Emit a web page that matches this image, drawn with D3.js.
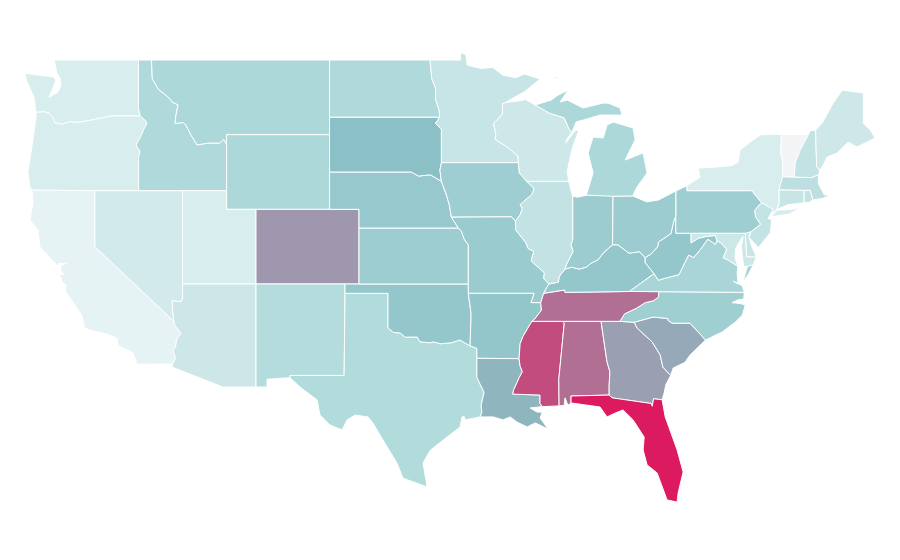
<!DOCTYPE html>
<html>
<head>
<meta charset="utf-8">
<title>States</title>
<script src="https://cdn.jsdelivr.net/npm/d3@7"></script>
<style>
  html, body { margin: 0; background: #fff; }
  .state { stroke: #fff; stroke-width: 1; stroke-linejoin: round; }
</style>
</head>
<body>
<svg id="map" width="900" height="560"></svg>
<script>
(function () {
  'use strict';

  var stateNames = ['WA','OR','CA','NV','ID','MT','WY','UT','CO','AZ','NM','TX','OK','KS','NE','SD','ND','MN','IA','MO','AR','LA','MS','AL','GA','FL','SC','NC','TN','KY','VA','WV','MD','DE','PA','OH','IN','IL','WI','MI','NY','NJ','CT','RI','MA','VT','NH','ME'];
  var stateValues = [13,13,6.7,15.7,32,33,33,13,62.3,18,29.5,30.5,45,40.5,44,50,32,21,40,42,46,53.3,85,74.4,59.6,100,57,39.5,74.4,45,35,45,18.6,20.5,40,41.4,41.4,23,17.6,33,13,22,20.5,22,25.7,0,23,17.6];

  var colorStops = [0, 6.7, 33, 50, 100];
  var colorRange = ['#f3f4f6', '#e5f3f4', '#add8da', '#8ac0c6', '#dc1a60'];

  // borders, lon/lat
  var waCoast = [[-122.76,49],[-122.58,48.3],[-122.37,48.03],[-122.3,47.66],[-122.5,47.28],[-123.12,47],[-122.9,47.4],[-122.65,47.93],[-122.85,48.09],[-123.7,48.17],[-124.75,48.3],[-124.65,47.9],[-124.3,47.3],[-124.1,46.9],[-124.05,46.4],[-124,46.2]];
  var waOr = [[-124,46.2],[-123.4,46.22],[-123.1,46.15],[-122.85,45.95],[-122.75,45.65],[-122.25,45.55],[-121.7,45.7],[-121.2,45.65],[-120.6,45.73],[-119.95,45.83],[-119.3,45.93],[-118.98,46],[-116.92,46]];
  var waId = [[-117.04,49],[-117.04,46.42],[-116.92,46]];
  var orCoast = [[-124,46.2],[-124,45.95],[-124.21,44.7],[-124.55,43],[-124.41,42.2],[-124.27,42.03]];
  var caOr = [[-124.27,42.03],[-120,42]];
  var orNv = [[-120,42],[-117.03,42]];
  var orId = [[-116.92,46],[-116.55,45.75],[-116.46,45.6],[-116.7,45.25],[-116.85,44.95],[-117.2,44.45],[-117.05,44.25],[-116.93,44.1],[-117.03,43.8],[-117.03,42]];
  var caCoast = [[-124.27,42.03],[-124.2,41.35],[-124.41,40.43],[-123.87,39.9],[-123.73,38.98],[-122.7,38.12],[-122.5,37.95],[-122.45,38.1],[-122.2,38.1],[-121.9,38.12],[-122.25,38],[-122.35,37.75],[-122.1,37.5],[-122.4,37.55],[-122.2,37.1],[-121.95,36.95],[-122,36.7],[-121.95,36.55],[-120.9,35.35],[-120.68,34.64],[-120.2,34.5],[-119.45,34.38],[-118.5,34.1],[-118.43,33.73],[-117.4,33.3],[-117.14,32.7],[-114.72,32.72]];
  var caNv = [[-120,42],[-120,39],[-114.63,35]];
  var caAz = [[-114.63,35],[-114.57,34.8],[-114.15,34.35],[-114.43,34.05],[-114.53,33.6],[-114.69,33.46],[-114.52,33.03],[-114.72,32.72]];
  var idNv = [[-117.03,42],[-114.04,42]];
  var nvUt = [[-114.04,42],[-114.04,37]];
  var nvAz = [[-114.04,37],[-114.04,36.2],[-114.15,36.05],[-114.75,36.1],[-114.72,35.6],[-114.63,35]];
  var idMt = [[-116.15,49],[-116.1,48],[-115.7,47.45],[-115,47],[-114.75,46.75],[-114.35,46.6],[-114.5,46],[-114.55,45.6],[-114,45.65],[-113.8,45.5],[-113.45,44.95],[-113.05,44.45],[-112.3,44.55],[-111.5,44.55],[-111.25,44.75],[-111.05,44.48]];
  var idUt = [[-114.04,42],[-111.05,42]];
  var idWy = [[-111.05,44.48],[-111.05,42]];
  var mtWy = [[-111.05,44.48],[-111.05,45],[-104.05,45]];
  var mtSd = [[-104.05,45],[-104.05,45.94]];
  var mtNd = [[-104.05,45.94],[-104.05,49]];
  var wyUt = [[-111.05,42],[-111.05,41],[-109.05,41]];
  var wyCo = [[-109.05,41],[-104.05,41]];
  var neWy = [[-104.05,43],[-104.05,41]];
  var sdWy = [[-104.05,45],[-104.05,43]];
  var utCo = [[-109.05,41],[-109.05,37]];
  var utAz = [[-114.04,37],[-109.05,37]];
  var coNe = [[-104.05,41],[-102.05,41],[-102.05,40]];
  var coKs = [[-102.05,40],[-102.05,37]];
  var okCo = [[-102.05,37],[-103,37]];
  var coNm = [[-103,37],[-109.05,37]];
  var azNm = [[-109.05,37],[-109.05,31.48]];
  var azMex = [[-109.05,31.48],[-111.3,31.48],[-114.76,32.55],[-114.72,32.72]];
  var nmOk = [[-103,37],[-103,36.5]];
  var nmTx = [[-103,36.5],[-103.06,32.1],[-106.74,32.1],[-106.74,31.98]];
  var nmMex = [[-106.74,31.98],[-108.3,31.9],[-108.3,31.48],[-109.05,31.48]];
  var txPan = [[-103,36.5],[-100.08,36.5],[-100.08,34.64]];
  var okTx = [[-100.08,34.64],[-99.7,34.4],[-99.26,34.38],[-98.9,34.15],[-98.1,34.16],[-97.9,33.9],[-97.2,33.85],[-97.02,33.9],[-96.5,33.8],[-95.8,33.85],[-95.18,34],[-94.5,33.68]];
  var arTx = [[-94.5,33.68],[-94.04,33.55],[-94.04,33.02]];
  var txLa = [[-94.04,33.02],[-94.04,32],[-93.8,31.6],[-93.55,31.2],[-93.75,30.5],[-93.7,30.1],[-93.82,29.88]];
  var txCoast = [[-93.82,29.88],[-94.85,29.72],[-94.9,29.9],[-95.05,29.88],[-95.18,29.34],[-96.07,28.8],[-97.2,28.1],[-97.7,27.41],[-97.42,26.13]];
  var txMex = [[-97.42,26.13],[-99.06,26.6],[-99.47,27.41],[-100.42,28.64],[-101.1,29.55],[-101.44,29.88],[-102.32,29.98],[-102.86,29.72],[-103.2,29.18],[-104.02,29.45],[-104.7,29.98],[-104.9,30.79],[-106.06,31.48],[-106.74,31.98]];
  var ksOk = [[-102.05,37],[-94.62,37]];
  var moOk = [[-94.62,36.5],[-94.62,37]];
  var arOk = [[-94.5,33.68],[-94.43,35.4],[-94.62,36.5]];
  var moKs = [[-94.62,37],[-94.62,39.1],[-94.9,39.4],[-95.1,39.85],[-95.3,40]];
  var neKs = [[-102.05,40],[-95.3,40]];
  var neMo = [[-95.77,40.58],[-95.3,40]];
  var iaNe = [[-96.45,42.5],[-96.1,41.75],[-95.9,41.2],[-95.77,40.58]];
  var neSd = [[-104.05,43],[-98.5,43],[-98,42.78],[-97.2,42.85],[-96.45,42.5]];
  var iaSd = [[-96.45,43.5],[-96.55,43.1],[-96.45,42.5]];
  var mnSd = [[-96.56,45.94],[-96.85,45.6],[-96.45,45.3],[-96.45,43.5]];
  var ndSd = [[-104.05,45.94],[-96.56,45.94]];
  var mnNd = [[-97.23,49],[-97.1,48],[-96.85,47.5],[-96.85,46.9],[-96.6,46.3],[-96.56,45.94]];
  var mnTop = [[-97.23,49],[-95.15,49],[-95.15,49.38],[-94.8,49.3],[-94.7,48.73],[-93.8,48.55],[-92.95,48.6],[-92.3,48.2],[-91.4,48.05],[-90.8,48.25],[-89.75,47.98],[-90.8,47.3],[-91.5,47],[-92.1,46.72]];
  var mnWi = [[-92.1,46.72],[-92.3,46.65],[-92.3,46.1],[-92.9,45.6],[-92.75,45],[-92.8,44.75],[-91.9,44.3],[-91.25,43.85],[-91.22,43.5]];
  var iaMn = [[-96.45,43.5],[-91.22,43.5]];
  var iaWi = [[-90.65,42.5],[-91.15,42.95],[-91.22,43.5]];
  var iaIl = [[-91.42,40.38],[-91.1,40.7],[-90.95,41.05],[-91.1,41.25],[-90.3,41.8],[-90.15,42.1],[-90.65,42.5]];
  var iaMo = [[-91.42,40.38],[-91.7,40.6],[-95.77,40.58]];
  var ilMo = [[-89.15,37],[-89.5,37.3],[-89.45,37.6],[-89.95,37.95],[-90.35,38.25],[-90.17,38.75],[-90.55,38.9],[-90.7,39.2],[-91.4,39.9],[-91.42,40.38]];
  var moKy = [[-89.15,37],[-89.5,36.5]];
  var moTn = [[-89.5,36.5],[-89.7,36]];
  var moAr = [[-94.62,36.5],[-90.15,36.5],[-90.37,36],[-89.7,36]];
  var arTn = [[-89.7,36],[-89.65,35.6],[-90.1,35.13],[-90.3,35]];
  var arMs = [[-90.3,35],[-90.6,34.6],[-90.9,34.2],[-91.1,33.8],[-91.17,33]];
  var arLa = [[-94.04,33.02],[-91.17,33]];
  var laMs = [[-91.17,33],[-91.1,32.6],[-90.95,32.3],[-91.15,32],[-91.55,31.3],[-91.6,31.1],[-89.75,31.05],[-89.75,30.6],[-89.6,30.43]];
  var laCoast = [[-89.6,30.43],[-90.42,30.36],[-89.95,30.14],[-89.6,30.14],[-89.74,29.82],[-89.2,29.23],[-90.08,29.56],[-90.62,29.34],[-91.3,29.6],[-91.78,29.88],[-92.26,29.72],[-92.93,29.88],[-93.82,29.88]];
  var msCoast = [[-88.45,30.47],[-89.6,30.43]];
  var msAl = [[-88.2,35],[-88.1,34.9],[-88.47,31.9],[-88.45,30.47]];
  var alCoast = [[-88.45,30.47],[-88.1,30.5],[-88.05,30.9],[-87.85,30.5],[-87.64,30.63]];
  var alFl = [[-87.64,30.63],[-87.64,31],[-85.05,31.05]];
  var alGa = [[-85.6,35],[-85.2,32.85],[-85,32.3],[-85.05,31.55],[-85.05,31.05]];
  var gaFl = [[-85.05,31.05],[-84.85,30.9],[-82.2,30.6],[-82.12,30.45],[-82.03,30.85],[-81.45,30.8]];
  var flCoast = [[-87.64,30.63],[-85.67,30.41],[-85.19,29.88],[-84.6,30.1],[-84.1,30.25],[-83.42,29.72],[-82.67,28.8],[-82.74,28.11],[-82.47,27.31],[-81.79,26.88],[-81.11,25.43],[-80.43,25.32],[-80.36,25.81],[-80.02,26.93],[-80.43,28.11],[-81.24,29.88],[-81.45,30.8]];
  var gaSc = [[-83.35,34.95],[-83.15,34.64],[-82.13,33.9],[-81.58,33.2],[-81.4,32.55],[-80.87,32.1]];
  var gaCoast = [[-80.87,32.1],[-81.2,31.6],[-81.3,31.2],[-81.45,30.8]];
  var ncSc = [[-83.35,34.95],[-82.06,35.23],[-81.05,35.15],[-81.05,35.05],[-80.77,34.9],[-79.55,34.9],[-78.5,34]];
  var scCoast = [[-78.5,34],[-79.55,33.2],[-79.9,32.8],[-80.7,32.5],[-80.87,32.1]];
  var ncVa = [[-81.68,36.59],[-75.87,36.55]];
  var ncCoast = [[-75.87,36.55],[-75.9,36.2],[-76.3,36.15],[-76.7,36],[-76.1,35.95],[-75.8,35.87],[-75.99,35.34],[-76.47,34.96],[-77.37,34.43],[-78.5,34]];
  var ncTn = [[-84.32,35],[-84,35.4],[-83.2,35.7],[-82.6,36],[-82.05,36.1],[-81.7,36.3],[-81.68,36.59]];
  var tnSouth = [[-84.32,35],[-85.6,35],[-88.2,35],[-90.3,35]];
  var vaTn = [[-83.67,36.6],[-81.68,36.59]];
  var kyTn = [[-83.67,36.6],[-88.05,36.55],[-88.07,36.68],[-89.5,36.5]];
  var kyVa = [[-82,37.55],[-83.67,36.6]];
  var kyWv = [[-82.6,38.42],[-82.6,38.15],[-82,37.55]];
  var ilKy = [[-88.05,37.8],[-88.45,37.4],[-88.5,37.1],[-89.15,37]];
  var inKy = [[-88.05,37.8],[-87.6,37.9],[-87.1,37.8],[-86.6,37.9],[-86.3,38.1],[-85.8,38.3],[-85.4,38.7],[-84.82,39.1]];
  var ohKy = [[-84.82,39.1],[-84.45,39.1],[-83.7,38.65],[-83,38.73],[-82.6,38.42]];
  var ohWv = [[-82.6,38.42],[-82.2,38.6],[-81.75,39],[-81.7,39.25],[-80.85,39.7],[-80.65,40.4],[-80.52,40.64]];
  var ohPa = [[-80.52,40.64],[-80.52,41.98]];
  var ohLake = [[-80.52,41.98],[-81.7,41.5],[-82.5,41.4],[-83.45,41.72]];
  var inOh = [[-84.8,41.7],[-84.82,39.1]];
  var miIn = [[-84.8,41.7],[-84.8,41.76],[-86.6,41.76]];
  var inLake = [[-86.6,41.76],[-87.2,41.65],[-87.53,41.7]];
  var ilLake = [[-87.53,41.7],[-87.6,41.9],[-87.8,42.5]];
  var ilIn = [[-87.53,41.7],[-87.53,39.35],[-87.65,39.1],[-87.5,38.75],[-87.95,38.05],[-88.05,37.8]];
  var wiSup = [[-92.1,46.72],[-90.9,46.85],[-90.75,46.9],[-90.08,46.59]];
  var wiMi = [[-90.08,46.59],[-89.1,46.15],[-88.1,45.9],[-87.8,45.35],[-87.6,45.1]];
  var wiLake = [[-87.6,45.1],[-87.95,44.75],[-88,44.55],[-87.4,45.2],[-87.1,45.25],[-87.55,44.3],[-87.75,43.6],[-87.9,43],[-87.8,42.5]];
  var miUpper = [[-90.08,46.59],[-89,46.85],[-88.52,47.12],[-87.84,47.39],[-88.38,46.75],[-87.91,46.86],[-86.82,46.43],[-85.46,46.69],[-85.12,46.69],[-84.31,46.43],[-84.17,46.05],[-84.85,46.05],[-85.66,46.05],[-86.82,45.78],[-87.3,45.68],[-87.6,45.1]];
  var miLower = [[-86.6,41.76],[-86.14,42.95],[-86.48,44.02],[-86.14,44.87],[-85.46,44.82],[-85.19,45.52],[-84.78,45.68],[-83.42,45.36],[-83.29,44.71],[-83.96,43.64],[-82.74,44.02],[-82.47,42.95],[-83.15,42.2],[-83.45,41.72]];
  var isleRoyale = [[-89.2,47.85],[-88.55,48.15],[-88.6,48.05],[-89.1,47.9]];
  var vaWv = [[-82,37.55],[-81.7,37.2],[-81.3,37.3],[-80.3,37.5],[-80,38],[-79.65,38.55],[-79.3,38.42],[-78.85,38.85],[-78.35,39.4],[-77.83,39.13],[-77.72,39.32]];
  var vaMd = [[-77.72,39.32],[-77.45,39.2],[-77.05,38.85],[-77.3,38.4],[-77,38.3],[-76.3,37.95]];
  var vaCoast = [[-76.3,37.95],[-76.35,37.6],[-76.3,37],[-76.6,37.15],[-76,36.9],[-75.87,36.55]];
  var vaShore = [[-75.95,37.15],[-75.65,37.95],[-75.25,38.03],[-75.6,37.5]];
  var wvPa = [[-80.52,40.64],[-80.52,39.72],[-79.48,39.72]];
  var mdWv = [[-79.48,39.72],[-79.48,39.2],[-79,39.45],[-78.45,39.55],[-77.83,39.6],[-77.72,39.32]];
  var mdPa = [[-79.48,39.72],[-75.79,39.72]];
  var mdDe = [[-75.79,39.72],[-75.7,38.46],[-75.05,38.45]];
  var mdShore = [[-75.05,38.45],[-75.25,38.03],[-75.65,37.95],[-75.9,37.95],[-76,38.5],[-76.05,39],[-75.95,39.55],[-76.25,39.2],[-76.45,38.9],[-76.5,38.4],[-76.3,37.95]];
  var deCoast = [[-75.05,38.45],[-75.4,39.1],[-75.55,39.6],[-75.4,39.8]];
  var paDe = [[-75.4,39.8],[-75.79,39.72]];
  var paNy = [[-79.76,42.27],[-79.76,42],[-75.35,42],[-74.7,41.36]];
  var paNj = [[-74.7,41.36],[-75.15,40.95],[-75.1,40.6],[-74.75,40.2],[-75.4,39.8]];
  var nyNj = [[-74.7,41.36],[-73.9,41]];
  var njCoast = [[-73.9,41],[-74.25,40.5],[-74,40.45],[-74.1,39.75],[-74.9,38.95],[-75.55,39.5],[-75.4,39.8]];
  var nyCt = [[-73.65,41],[-73.5,41.3],[-73.5,42.05]];
  var nyMa = [[-73.5,42.05],[-73.27,42.75]];
  var nyVt = [[-73.27,42.75],[-73.25,43.6],[-73.4,44],[-73.34,45.01]];
  var nyNorth = [[-73.34,45.01],[-74.7,45],[-75,44.87],[-76.15,44.18],[-76.28,43.53],[-76.7,43.35],[-77.64,43.27],[-79,43.21],[-78.87,42.73],[-79.76,42.27]];
  var longIsland = [[-74,40.6],[-73.7,40.95],[-72.6,41],[-71.95,41.12],[-72.8,40.75]];
  var ctRi = [[-71.8,42.02],[-71.8,41.35]];
  var maRi = [[-71.38,42.02],[-71.2,41.5]];
  var maCoast = [[-71.2,41.5],[-70.5,41.6],[-70.03,41.77],[-70.43,41.77],[-70.84,42.4],[-70.8,42.87]];
  var maNh = [[-70.8,42.87],[-71.3,42.7],[-72.46,42.73]];
  var maVt = [[-72.46,42.73],[-73.27,42.75]];
  var vtNh = [[-72.46,42.73],[-72.4,43.5],[-72.05,44.2],[-71.5,45.01]];
  var nhMe = [[-70.75,43.1],[-70.95,43.3],[-71.02,45.25]];
  var meCoast = [[-71.02,45.25],[-70.57,45.62],[-69.82,46.69],[-69.21,47.39],[-67.78,47.23],[-67.78,45.62],[-67.31,45.25],[-66.97,44.82],[-68.2,44.34],[-68.81,44.6],[-69.55,44.02],[-70.23,43.8],[-70.57,43.27]];

  function rev (arc) {
    return arc.slice().reverse();
  }

  // joins border pieces into one closed ring
  function ring () {
    var pts = [];
    Array.prototype.forEach.call(arguments, function (arc) {
      arc.forEach(function (p) {
        var last = pts[pts.length - 1];
        if (!last || last[0] !== p[0] || last[1] !== p[1]) pts.push(p);
      });
    });
    var a = pts[0], b = pts[pts.length - 1];
    if (a[0] !== b[0] || a[1] !== b[1]) pts.push(a);
    return pts;
  }

  var shapes = {
    WA: [ring(waCoast, waOr, rev(waId))],
    OR: [ring(orCoast, caOr, orNv, rev(orId), rev(waOr))],
    CA: [ring(caCoast, rev(caAz), rev(caNv))],
    NV: [ring(orNv, idNv, nvUt, nvAz, rev(caNv))],
    ID: [ring(waId, orId, idNv, idUt, rev(idWy), rev(idMt))],
    MT: [ring(idMt, mtWy, mtSd, mtNd)],
    WY: [ring(idWy, wyUt, wyCo, rev(neWy), rev(sdWy), rev(mtWy))],
    UT: [ring(idUt, wyUt, utCo, rev(utAz), rev(nvUt))],
    CO: [ring(wyCo, coNe, coKs, okCo, coNm, rev(utCo))],
    AZ: [ring(utAz, azNm, azMex, rev(caAz), rev(nvAz))],
    NM: [ring(rev(coNm), nmOk, nmTx, nmMex, rev(azNm))],
    TX: [ring(txPan, okTx, arTx, txLa, txCoast, txMex, rev(nmTx))],
    OK: [ring(rev(okCo), ksOk, rev(moOk), rev(arOk), rev(okTx), rev(txPan), rev(nmOk))],
    KS: [ring(coKs, ksOk, moKs, rev(neKs))],
    NE: [ring(neWy, coNe, neKs, rev(neMo), rev(iaNe), rev(neSd))],
    SD: [ring(rev(mtSd), sdWy, neSd, rev(iaSd), rev(mnSd), rev(ndSd))],
    ND: [ring(rev(mtNd), ndSd, rev(mnNd))],
    MN: [ring(mnTop, mnWi, rev(iaMn), rev(mnSd), rev(mnNd))],
    IA: [ring(iaMn, rev(iaWi), rev(iaIl), iaMo, rev(iaNe), rev(iaSd))],
    MO: [ring(rev(iaMo), rev(ilMo), moKy, moTn, rev(moAr), moOk, moKs, rev(neMo))],
    AR: [ring(moAr, arTn, arMs, rev(arLa), rev(arTx), arOk)],
    LA: [ring(arLa, laMs, laCoast, rev(txLa))],
    MS: [ring(arMs, laMs, rev(msCoast), rev(msAl))],
    AL: [ring(msAl, alCoast, alFl, rev(alGa))],
    GA: [ring(alGa, gaFl, rev(gaCoast), rev(gaSc), [[-84.32,35]])],
    FL: [ring(flCoast, rev(gaFl), rev(alFl))],
    SC: [ring(gaSc, rev(scCoast), rev(ncSc))],
    NC: [ring(ncVa, ncCoast, rev(ncSc), [[-84.32,35]], ncTn)],
    TN: [ring(vaTn, rev(ncTn), tnSouth, rev(arTn), rev(moTn), rev(kyTn))],
    KY: [ring(kyWv, kyVa, kyTn, rev(moKy), rev(ilKy), inKy, ohKy)],
    VA: [ring(vaWv, vaMd, vaCoast, rev(ncVa), rev(vaTn), rev(kyVa)), ring(vaShore)],
    WV: [ring(ohWv, wvPa, mdWv, rev(vaWv), rev(kyWv))],
    MD: [ring(mdPa, mdDe, mdShore, rev(vaMd), rev(mdWv))],
    DE: [ring(mdDe, deCoast, paDe)],
    PA: [ring(paNy, paNj, paDe, rev(mdPa), rev(wvPa), ohPa)],
    OH: [ring(inOh, ohKy, ohWv, ohPa, ohLake)],
    IN: [ring(miIn, inLake, ilIn, inKy, rev(inOh))],
    IL: [ring(ilIn, ilKy, ilMo, iaIl, rev(ilLake))],
    WI: [ring(wiSup, wiMi, wiLake, [[-90.65,42.5]], iaWi, rev(mnWi))],
    MI: [ring(miLower, [[-84.8,41.7]]), ring(miUpper, rev(wiMi)), ring(isleRoyale)],
    NY: [ring(paNy, nyNj, [[-74,40.7]], nyCt, nyMa, nyVt, nyNorth), ring(longIsland)],
    NJ: [ring(nyNj, njCoast, rev(paNj))],
    CT: [ring(nyCt, ctRi, [[-72.9,41.25]])],
    RI: [ring(ctRi, [[-71.5,41.37]], rev(maRi))],
    MA: [ring(ctRi.slice(0, 1), maRi, maCoast, maNh, maVt, rev(nyMa))],
    VT: [ring(rev(maVt), vtNh, rev(nyVt))],
    NH: [ring(rev(maNh), nhMe, [[-71.4,45.2]], rev(vtNh))],
    ME: [ring(nhMe, meCoast)]
  };

  var width = 900, height = 560;

  // the map is a plain lon/lat grid, stretched in y
  var x = d3.scaleLinear().domain([-109.05, -102.05]).range([256, 359]);
  var y = d3.scaleLinear().domain([37, 49]).range([284, 60]);

  var projection = d3.geoTransform({
    point: function (lon, lat) {
      this.stream.point(x(lon), y(lat));
    }
  });
  var path = d3.geoPath(projection);

  var color = d3.scaleLinear().domain(colorStops).range(colorRange);

  var features = stateNames.map(function (name, i) {
    return {
      type: 'Feature',
      id: name,
      properties: { value: stateValues[i] },
      geometry: {
        type: 'MultiPolygon',
        coordinates: shapes[name].map(function (r) { return [r]; })
      }
    };
  });

  var svg = d3.select('#map')
      .attr('viewBox', '0 0 ' + width + ' ' + height);

  svg.append('g')
    .selectAll('path')
    .data(features)
    .enter()
    .append('path')
      .attr('class', 'state')
      .attr('d', path)
      .style('fill', function (d) { return color(d.properties.value); });
} ());
</script>
</body>
</html>
